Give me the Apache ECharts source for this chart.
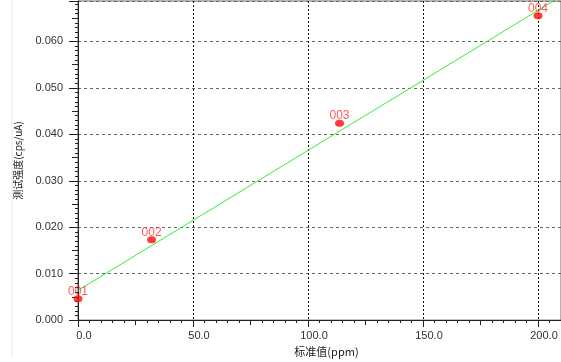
<!DOCTYPE html>
<html>
<head>
<meta charset="utf-8">
<script src="https://cdn.jsdelivr.net/npm/echarts@6/dist/echarts.min.js"></script>
<style>
  html, body { margin: 0; padding: 0; background: #fff; }
  #chart { width: 561px; height: 362px; }
</style>
</head>
<body>
<div id="chart"></div>
<script>
// Calibration standards: concentration (ppm) vs measured intensity
const sampleNames = ['001', '002', '003', '004'];
const standardPpm = [0, 32, 113.7, 200];
const intensity = [0.0046, 0.0173, 0.0424, 0.0655];

// Calibration line end points (ppm, intensity)
const fitX = [0, 210];
const fitY = [0.0064, 0.0697];

const xTicks = [0, 50, 100, 150, 200];
const yTickStep = 0.01;

const X_MAX = 210;
const Y_MAX = 0.0687;

const chart = echarts.init(document.getElementById('chart'));

const font = '"Liberation Sans", Arial, sans-serif';

const option = {
  animation: false,
  backgroundColor: '#fff',
  grid: {
    left: 78, right: -3, top: 1, bottom: 38,
    show: true, borderColor: '#666', borderWidth: 1, backgroundColor: 'transparent'
  },
  graphic: [{
    type: 'line',
    shape: { x1: 12, y1: 0, x2: 12, y2: 356 },
    style: { stroke: '#e6e6e6', lineWidth: 1 }
  }],
  xAxis: [{
    type: 'value',
    min: 0, max: X_MAX, interval: 50,
    name: '标准值(ppm)',
    nameLocation: 'middle',
    nameGap: 21,
    nameTextStyle: { fontFamily: '"Noto Sans CJK SC", sans-serif', fontSize: 11, color: '#222', padding: [0, 0, 0, 14] },
    axisLine: { show: true, lineStyle: { color: '#222', width: 1 } },
    axisTick: { show: true, length: 7, lineStyle: { color: '#222' } },
    minorTick: { show: true, splitNumber: 10, length: 3, lineStyle: { color: '#222' } },
    axisLabel: {
      margin: 10, fontFamily: font, fontSize: 11, color: '#333',
      padding: [0, 0, 0, 12],
      showMaxLabel: false,
      formatter: v => xTicks.includes(v) ? v.toFixed(1) : ''
    },
    splitLine: { show: true, lineStyle: { color: '#111', type: [2, 2], width: 1 } }
  }, {
    // medium ticks halfway between major ticks
    type: 'value',
    position: 'bottom',
    min: 0, max: X_MAX, interval: 25,
    axisLine: { show: false },
    axisTick: { show: true, length: 5, lineStyle: { color: '#222' } },
    axisLabel: { show: false },
    splitLine: { show: false }
  }],
  yAxis: [{
    type: 'value',
    min: 0, max: Y_MAX, interval: yTickStep,
    name: '测试强度(cps/uA)',
    nameLocation: 'middle',
    nameGap: 55,
    nameRotate: 90,
    nameTextStyle: { fontFamily: '"Noto Sans CJK SC", sans-serif', fontSize: 10, color: '#222' },
    axisLine: { show: true, lineStyle: { color: '#222', width: 1 } },
    axisTick: { show: true, length: 9, lineStyle: { color: '#222' } },
    minorTick: { show: true, splitNumber: 10, length: 3, lineStyle: { color: '#222' } },
    axisLabel: {
      margin: 15, fontFamily: font, fontSize: 11, color: '#333',
      showMaxLabel: false,
      formatter: v => v.toFixed(3)
    },
    splitLine: { show: true, lineStyle: { color: '#666', type: [3, 3], width: 1 } }
  }, {
    type: 'value',
    position: 'left',
    min: 0, max: Y_MAX, interval: yTickStep / 2,
    axisLine: { show: false },
    axisTick: { show: true, length: 6, lineStyle: { color: '#222' } },
    axisLabel: { show: false },
    splitLine: { show: false }
  }],
  series: [
    {
      type: 'line',
      data: fitX.map((x, i) => [x, fitY[i]]),
      symbol: 'none',
      clip: true,
      lineStyle: { color: '#33ee33', width: 1 },
      z: 3
    },
    {
      type: 'scatter',
      data: standardPpm.map((x, i) => ({ value: [x, intensity[i]], name: sampleNames[i] })),
      symbol: 'circle',
      symbolSize: [9, 7],
      itemStyle: { color: '#ff0a0a' },
      label: {
        show: true, position: 'top', distance: -2,
        formatter: p => p.name,
        color: '#ff3030', fontFamily: font, fontSize: 12
      },
      z: 4
    }
  ]
};

chart.setOption(option);
</script>
</body>
</html>
